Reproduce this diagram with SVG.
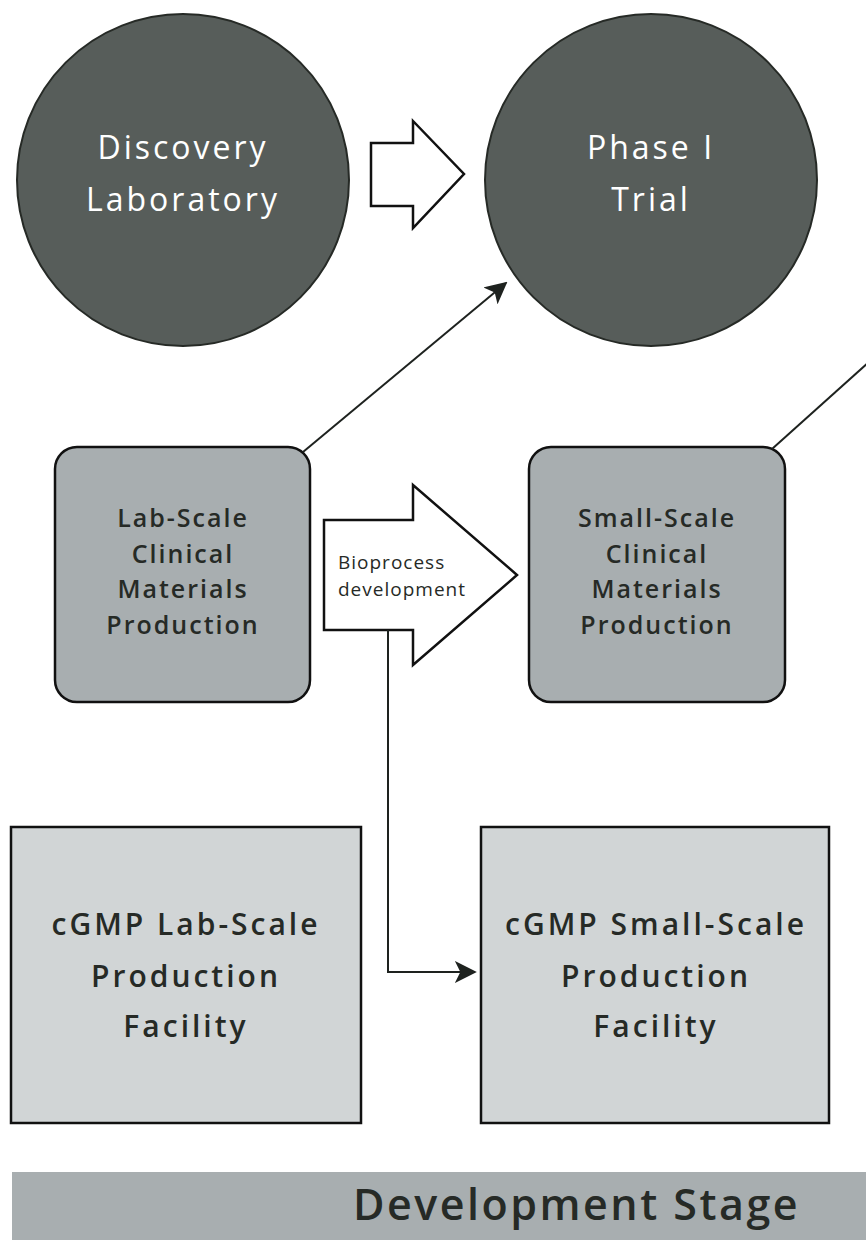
<svg xmlns="http://www.w3.org/2000/svg" width="866" height="1240" viewBox="0 0 866 1240">
<defs>
<style>
.circ{fill:#575d5a;stroke:#262a26;stroke-width:2}
.ctext{fill:#ffffff;font-family:"Open Sans",sans-serif;font-weight:400;font-size:32px;letter-spacing:3px;text-anchor:middle}
.rbox{fill:#a8aeb0;stroke:#111;stroke-width:2.5}
.rtext{fill:#262a26;font-family:"Open Sans",sans-serif;font-weight:600;font-size:25px;letter-spacing:2px;text-anchor:middle}
.fbox{fill:#d1d5d6;stroke:#111;stroke-width:2.5}
.ftext{fill:#262a26;font-family:"Open Sans",sans-serif;font-weight:600;font-size:30px;letter-spacing:3px;text-anchor:middle}
.barrow{fill:#ffffff;stroke:#111;stroke-width:2.5}
.conn{fill:none;stroke:#1e221f;stroke-width:2}
.lbl{fill:#262a26;font-family:"Open Sans",sans-serif;font-size:19px;letter-spacing:1px}
.banner{fill:#a8aeb0}
.btext{fill:#262a26;font-family:"Open Sans",sans-serif;font-weight:600;font-size:43px;letter-spacing:2.5px}
</style>
<marker id="ah2" viewBox="0 0 12 12" refX="11" refY="6" markerWidth="22" markerHeight="22" markerUnits="userSpaceOnUse" orient="auto">
<path d="M0,0 L12,6 L0,12 L3,6 Z" fill="#1e221f"/>
</marker>
</defs>

<g id="node-discovery">
<ellipse class="circ" cx="183" cy="180" rx="166" ry="166"/>
<text class="ctext" x="183" y="159">Discovery</text>
<text class="ctext" x="183" y="211">Laboratory</text>
</g>

<g id="node-phase1">
<ellipse class="circ" cx="651" cy="180" rx="166" ry="166"/>
<text class="ctext" x="651" y="159">Phase I</text>
<text class="ctext" x="651" y="211">Trial</text>
</g>

<g id="node-arrow-top">
<polygon class="barrow" points="371,143 413,143 413,121 464,174 413,228 413,206 371,206"/>
</g>

<g id="node-labscale">
<rect class="rbox" x="55" y="447" width="255" height="255" rx="22"/>
<text class="rtext" x="183" y="527">Lab-Scale</text>
<text class="rtext" x="183" y="563">Clinical</text>
<text class="rtext" x="183" y="598">Materials</text>
<text class="rtext" x="183" y="634">Production</text>
</g>

<g id="node-smallscale">
<rect class="rbox" x="529" y="447" width="256" height="255" rx="22"/>
<text class="rtext" x="657" y="527">Small-Scale</text>
<text class="rtext" x="657" y="563">Clinical</text>
<text class="rtext" x="657" y="598">Materials</text>
<text class="rtext" x="657" y="634">Production</text>
</g>

<g id="node-bioprocess">
<polygon class="barrow" points="324,520 413,520 413,485 517,575 413,665 413,630 324,630"/>
<text class="lbl" x="338" y="569">Bioprocess</text>
<text class="lbl" x="338" y="596">development</text>
</g>

<g id="node-cgmp-lab">
<rect class="fbox" x="11" y="827" width="350" height="296"/>
<text class="ftext" x="186" y="935">cGMP Lab-Scale</text>
<text class="ftext" x="186" y="987">Production</text>
<text class="ftext" x="186" y="1037">Facility</text>
</g>

<g id="node-cgmp-small">
<rect class="fbox" x="481" y="827" width="348" height="296"/>
<text class="ftext" x="656" y="935">cGMP Small-Scale</text>
<text class="ftext" x="656" y="987">Production</text>
<text class="ftext" x="656" y="1037">Facility</text>
</g>

<g id="node-banner">
<rect class="banner" x="12" y="1172" width="860" height="70"/>
<text class="btext" x="353" y="1220">Development Stage</text>
</g>

<g id="connectors">
<line class="conn" x1="303" y1="452" x2="506" y2="283" marker-end="url(#ah2)"/>
<line class="conn" x1="772" y1="449" x2="870" y2="361"/>
<polyline class="conn" points="388,630 388,972 475,972" marker-end="url(#ah2)"/>
</g>
</svg>
